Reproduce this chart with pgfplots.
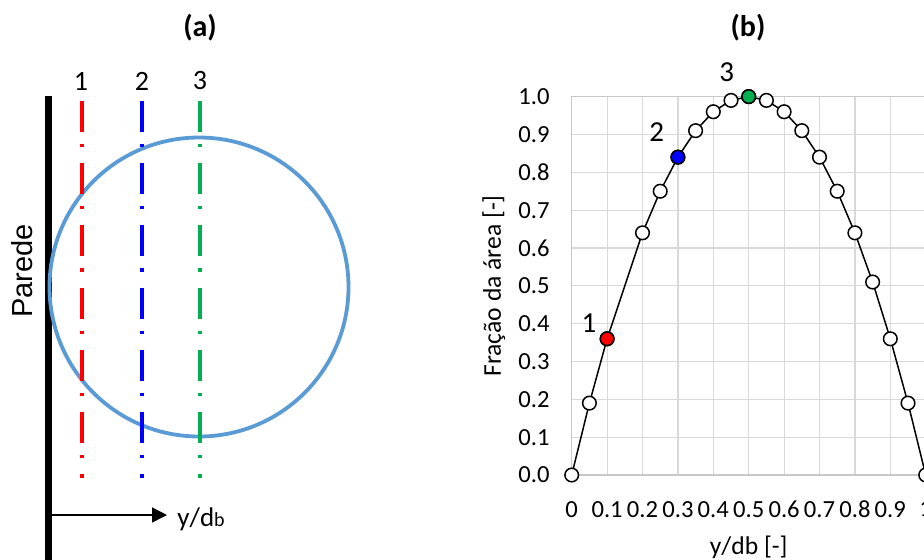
\documentclass[border=0pt]{standalone}
\usepackage{pgfplots}
\pgfplotsset{compat=1.18}
\usepackage{fontspec}
\setmainfont{Carlito}
\newfontfamily\arialfont{Liberation Sans}
\usetikzlibrary{arrows.meta}

\definecolor{circblue}{RGB}{91,155,213}
\definecolor{xlgreen}{RGB}{0,176,80}
\definecolor{gridgray}{RGB}{217,217,217}
\definecolor{axisgray}{RGB}{200,200,200}

\begin{document}
\begin{tikzpicture}[x=0.5pt,y=0.5pt]
\path[use as bounding box] (0,0) rectangle (924,559);
\clip (0,0) rectangle (924,559);

% ---------- (a) bubble next to the wall ----------
\node[font=\fontsize{15}{17}\selectfont\bfseries] at (200,531) {(a)};

% wall
\draw[line width=3.5pt] (48.5,463) -- (48.5,-5);
\node[font=\arialfont\fontsize{14.5}{16}\selectfont, rotate=90] at (22,288) {Parede};

% bubble
\draw[circblue, line width=1.9pt] (199,272) circle[radius=74.75pt];

% measurement lines
\tikzset{dashdot/.style={line width=1.65pt, dash pattern=on 15.5pt off 6pt on 1.6pt off 8pt}}
\draw[dashdot, red]     (82,458)  -- (82,81);
\draw[dashdot, blue]    (142,458) -- (142,81);
\draw[dashdot, xlgreen] (200,458) -- (200,81);
\begin{scope}[font=\fontsize{14}{16}\selectfont]
\node at (81,478)  {1};
\node at (142,478) {2};
\node at (200,478) {3};
\end{scope}

% distance from the wall
\draw[line width=0.75pt, -{Triangle[length=7.5pt,width=7.5pt]}] (50,44) -- (167,44);
\node[anchor=base west, inner sep=0pt, font=\fontsize{13.5}{15}\selectfont]
  at (177,33) {y/d{\fontsize{10}{11}\selectfont b}};

% ---------- (b) area fraction ----------
\node[font=\fontsize{15}{17}\selectfont\bfseries] at (748,531) {(b)};

\begin{axis}[
  at={(285.85pt,42pt)}, anchor=south west,
  scale only axis, width=177pt, height=189.2pt,
  xmin=0, xmax=1, ymin=0, ymax=1,
  xtick={0,0.1,0.2,0.3,0.4,0.5,0.6,0.7,0.8,0.9,1},
  xticklabels={0,0.1,0.2,0.3,0.4,0.5,0.6,0.7,0.8,0.9,1},
  ytick={0,0.1,0.2,0.3,0.4,0.5,0.6,0.7,0.8,0.9,1},
  yticklabels={0.0,0.1,0.2,0.3,0.4,0.5,0.6,0.7,0.8,0.9,1.0},
  grid=major,
  major grid style={gridgray, line width=0.6pt},
  axis line style={axisgray, line width=0.6pt},
  major tick length=0pt,
  tick label style={font=\fontsize{12.3}{14}\selectfont},
  xticklabel style={yshift=-9.5pt},
  yticklabel style={xshift=-7.5pt},
  xlabel={y/db [-]},
  ylabel={Fração da área [-]},
  label style={font=\fontsize{12.8}{14}\selectfont},
  xlabel style={at={(axis description cs:0.5,-0.19)}, anchor=center},
  ylabel style={at={(axis description cs:-0.22,0.5)}, anchor=center},
  clip=false,
]
\addplot[black, line width=0.75pt,
  mark=*, mark size=3.4pt,
  mark options={fill=white, draw=black, line width=0.75pt}]
  coordinates {
  (0,0) (0.05,0.19) (0.1,0.36) (0.2,0.64) (0.25,0.75) (0.3,0.84)
  (0.35,0.91) (0.4,0.96) (0.45,0.99) (0.5,1.00) (0.55,0.99) (0.6,0.96)
  (0.65,0.91) (0.7,0.84) (0.75,0.75) (0.8,0.64) (0.85,0.51) (0.9,0.36)
  (0.95,0.19) (1,0)
  };
\addplot[only marks, mark=*, mark size=3.4pt,
  mark options={fill=red, draw=black, line width=0.75pt}]
  coordinates {(0.1,0.36)};
\addplot[only marks, mark=*, mark size=3.4pt,
  mark options={fill=blue, draw=black, line width=0.75pt}]
  coordinates {(0.3,0.84)};
\addplot[only marks, mark=*, mark size=3.4pt,
  mark options={fill=xlgreen, draw=black, line width=0.75pt}]
  coordinates {(0.5,1.00)};
\node[font=\fontsize{14.5}{16}\selectfont] at (axis cs:0.049,0.40) {1};
\node[font=\fontsize{14.5}{16}\selectfont] at (axis cs:0.24,0.907) {2};
\node[font=\fontsize{14.5}{16}\selectfont] at (axis cs:0.438,1.065) {3};
\end{axis}
\end{tikzpicture}
\end{document}
